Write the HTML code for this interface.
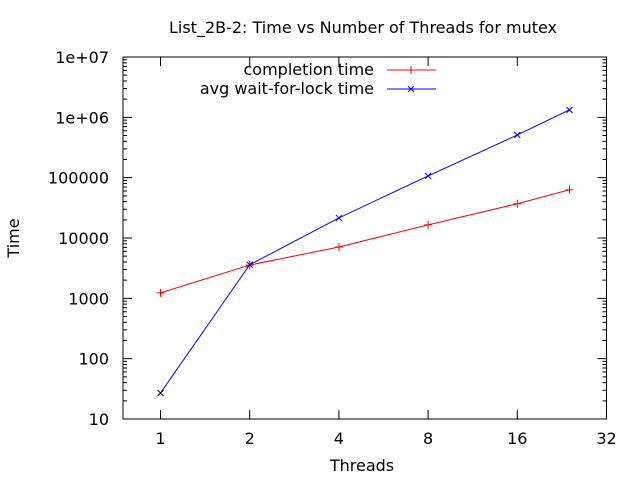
<!DOCTYPE html>
<html><head><meta charset="utf-8"><style>body{margin:0;background:#fff}svg{display:block;font-family:"DejaVu Sans","Liberation Sans",sans-serif}</style></head>
<body>
<svg id="chart" width="640" height="480" xmlns="http://www.w3.org/2000/svg">
<text x="363" y="33" font-size="16" text-anchor="middle">List_2B-2: Time vs Number of Threads for mutex</text>
<text x="362" y="471" font-size="16" text-anchor="middle">Threads</text>
<text transform="translate(19,238) rotate(-90)" font-size="16" text-anchor="middle">Time</text>
<g id="axes"></g>
<g id="series"></g>
<g>
<text x="374" y="75" font-size="16" text-anchor="end">completion time</text>
<line x1="387" y1="70" x2="436" y2="70" stroke="#f00"/>
<path d="M411,66V74M407,70H415" stroke="#f00"/>
<text x="374" y="94" font-size="16" text-anchor="end">avg wait-for-lock time</text>
<line x1="387" y1="89" x2="436" y2="89" stroke="#00f"/>
<path d="M408,86L414,92M408,92L414,86" stroke="#00f"/>
</g>
</svg>
<script>
const threads=[1,2,4,8,16,24];
const completionTime=[1230,3560,7100,16500,37000,63000];
const waitTime=[27,3600,21500,107000,510000,1330000];
const xTicks=[1,2,4,8,16,32];
const yTicks=[10,100,1000,10000,100000,1000000,10000000];
const yTickLabels=["10","100","1000","10000","100000","1e+06","1e+07"];
const L=123,R=606.5,T=57,B=419;
const NS="http://www.w3.org/2000/svg";
function X(t){return 160.5+89.2*Math.log2(t);}
function Y(v){return B-(B-T)*(Math.log10(v)-1)/6;}
function mk(tag,attrs,parent){const e=document.createElementNS(NS,tag);for(const k in attrs)e.setAttribute(k,attrs[k]);parent.appendChild(e);return e;}
const ax=document.getElementById('axes');
const fr=mk('rect',{x:L,y:T,width:R-L,height:B-T,fill:'none',stroke:'#000'},ax);


xTicks.forEach(t=>{const x=X(t);
 mk('path',{d:`M${x},${B}v-9M${x},${T}v9`,stroke:'#000'},ax);
 const tx=mk('text',{x:x,y:B+25,'font-size':16,'text-anchor':'middle'},ax);tx.textContent=t;
 
 
});
yTicks.forEach((v,i)=>{const y=Y(v);
 mk('path',{d:`M${L},${y}h9M${R},${y}h-9`,stroke:'#000'},ax);
 const tx=mk('text',{x:L-14,y:y+6,'font-size':16,'text-anchor':'end'},ax);tx.textContent=yTickLabels[i];
 
 
 if(i<yTicks.length-1)for(let m=2;m<=9;m++){const ym=Y(v*m);mk('path',{d:`M${L},${ym}h4M${R},${ym}h-4`,stroke:'#000'},ax);}
});
const sg=document.getElementById('series');
function series(vals,color,name,mark){
 const pts=threads.map((t,i)=>[X(t),Y(vals[i])]);
 const pl=mk('polyline',{points:pts.map(p=>p.join(',')).join(' '),fill:'none',stroke:color},sg);
 
 
 pts.forEach(p=>{const d=mark==='+'?`M${p[0]-4},${p[1]}h8M${p[0]},${p[1]-4}v8`:`M${p[0]-3},${p[1]-3}l6,6M${p[0]-3},${p[1]+3}l6,-6`;
  const pt=mk('path',{d:d,stroke:mark==='+'?color:(p[0]<170?'#000':color)},sg);
  
  
 });
}
series(completionTime,'#f00','completion-time','+');
series(waitTime,'#00f','wait-time','x');
</script>
</body></html>
